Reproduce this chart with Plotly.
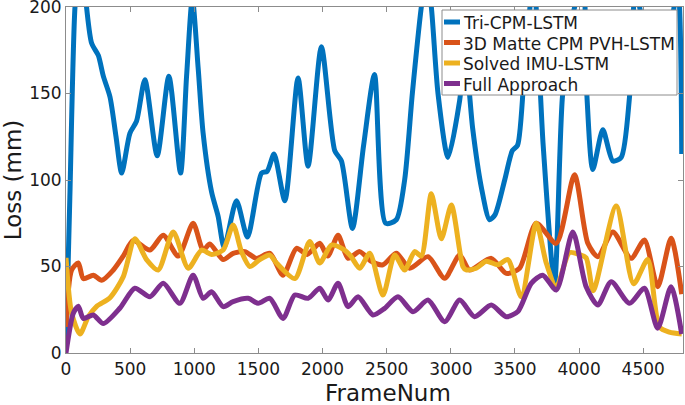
import plotly.graph_objects as go

tri_x = [0, 30, 70, 115, 160, 200, 252, 291, 343, 390, 434, 498, 550, 615, 711, 802, 893, 940, 985, 1030,
         1069, 1135, 1186, 1233, 1329, 1415, 1524, 1568, 1622, 1706, 1809, 1887, 1991, 2095, 2147, 2233,
         2320, 2405, 2492, 2575, 2640, 2700, 2770, 2810, 2848, 2900, 2978, 3069, 3110, 3170, 3240, 3302,
         3345, 3420, 3480, 3520, 3580, 3645, 3720, 3808, 3870, 3950, 4030, 4060, 4107, 4185, 4263, 4328,
         4393, 4440, 4500, 4600, 4700, 4770, 4800]
tri_y = [3, 90, 200, 235, 200, 179, 172, 160, 148, 125, 104, 127, 134, 158, 114, 160, 104, 160, 205, 165,
         127, 93, 79, 61, 88, 67, 104, 105, 115, 88, 159, 108, 177, 117, 111, 72,
         120, 161, 75, 77, 100, 150, 200, 220, 200, 150, 113, 146, 175, 130, 95, 77,
         80, 100, 117, 120, 170, 215, 120, 40, 148, 195, 215, 150, 106, 129, 111, 113,
         148, 210, 190, 170, 185, 210, 115]

mat_x = [0, 44, 96, 135, 213, 278, 369, 446, 524, 654, 758, 875, 991, 1069, 1121, 1225, 1303, 1394, 1485,
         1589, 1692, 1797, 1880, 1978, 2040, 2121, 2199, 2290, 2380, 2471, 2575, 2679, 2822, 2952, 3069,
         3146, 3315, 3432, 3536, 3666, 3822, 3964, 4068, 4146, 4263, 4405, 4509, 4613, 4717, 4800]
mat_y = [15, 48, 52, 43, 45, 42, 48, 56, 65, 59.5, 68, 56, 75, 59.5, 63, 54, 57.6, 58.6, 54.7,
         57.6, 45, 60.5, 57, 63.4, 56, 68, 54.7, 58.6, 53, 51, 57.6, 49, 55.7, 43.2, 56.6,
         48, 54.7, 46, 49, 75, 63.4, 103, 63.4, 55.7, 70, 54.7, 65.3, 38.3, 66.3, 34]

imu_x = [0, 44, 109, 174, 239, 343, 446, 537, 628, 719, 836, 953, 1057, 1135, 1225, 1303, 1368, 1433, 1511,
         1589, 1641, 1784, 1900, 1978, 2069, 2160, 2220, 2290, 2368, 2471, 2562, 2640, 2718, 2770, 2848,
         2926, 3004, 3094, 3120, 3198, 3276, 3367, 3445, 3549, 3666, 3744, 3822, 3925, 4000, 4055, 4110,
         4289, 4425, 4535, 4626, 4704, 4800]
imu_y = [55, 23, 11, 21, 27, 32, 44, 66, 54, 48, 70, 49, 59.5, 57, 59.5, 74, 58.6, 50, 54,
         56.6, 52, 43, 64.4, 52, 62.4, 60, 56, 49, 57.6, 33.5, 56.6, 48, 58.6, 56, 92,
         66, 85.5, 50, 48, 49, 53, 51, 54, 32.5, 75, 52, 38, 58, 57, 55, 36,
         85, 40, 54, 15, 12, 11]

full_x = [0, 57, 96, 135, 213, 291, 421, 537, 654, 758, 888, 991, 1069, 1135, 1225, 1303, 1420, 1498, 1589,
          1692, 1784, 1887, 1978, 2043, 2121, 2199, 2277, 2393, 2484, 2588, 2705, 2822, 2952, 3069, 3185,
          3315, 3432, 3523, 3627, 3717, 3822, 3951, 4055, 4146, 4250, 4393, 4509, 4613, 4717, 4800]
full_y = [0, 23, 27, 20, 22, 17, 26, 37.4, 32.5, 40.3, 28.7, 45, 31.6, 35.4, 26.8, 29.7, 31.6, 28.7, 31.6,
          20, 33.5, 31.6, 37.4, 30.6, 40.3, 26.8, 32.5, 22, 25.8, 32.5, 23.9, 30.6, 18.1, 30.6, 21,
          27.7, 21, 24, 40.3, 45, 36.4, 70, 38.3, 27.7, 41.2, 28.7, 37.4, 14.3, 38.3, 11]

names = ["Tri-CPM-LSTM", "3D Matte CPM PVH-LSTM", "Solved IMU-LSTM", "Full Approach"]
colors = ["#0072BD", "#D95319", "#EDB120", "#7E2F8E"]
xs = [tri_x, mat_x, imu_x, full_x]
ys = [tri_y, mat_y, imu_y, full_y]

x_ticks = [0, 500, 1000, 1500, 2000, 2500, 3000, 3500, 4000, 4500]
y_ticks = [0, 50, 100, 150, 200]

FONT = "DejaVu Sans, sans-serif"
TXT = "#1a1a1a"
EDGE = "#8c8c8c"

fig = go.Figure()
for x, y, n, c in zip(xs, ys, names, colors):
    fig.add_trace(go.Scatter(x=x, y=y, name=n, mode="lines", showlegend=False,
                             line=dict(color=c, width=5, shape="spline", smoothing=0.7)))

axis_common = dict(showgrid=False, zeroline=False, showline=True, mirror="ticks",
                   linecolor=EDGE, linewidth=1, ticks="inside", ticklen=5, automargin=False,
                   ticklabeloverflow="allow",
                   tickcolor=EDGE, tickfont=dict(family=FONT, size=17, color=TXT))

fig.update_xaxes(range=[0, 4810], tickvals=x_ticks, ticklabelstandoff=1, **axis_common)
fig.update_yaxes(range=[0, 200], tickvals=y_ticks,
                 title=dict(text="Loss (mm)", font=dict(family=FONT, size=23, color=TXT), standoff=4),
                 **axis_common)

# legend and x title drawn in paper coordinates (plot area: x 66..683 px, y 7..353 px)
W, H = 617.0, 346.0
def px(xp):
    return (xp - 66) / W
def py(yp):
    return (353 - yp) / H

shapes = [dict(type="rect", xref="paper", yref="paper", x0=px(442), x1=px(677), y0=py(95), y1=py(10),
               line=dict(color=EDGE, width=1), fillcolor="white", layer="above")]
annotations = [dict(xref="paper", yref="paper", x=px(388), y=py(392.5), text="FrameNum",
                    showarrow=False, xanchor="center", yanchor="middle",
                    font=dict(family=FONT, size=23, color=TXT))]
row_y = [22, 42.5, 63, 83.5]
for ry, n, c in zip(row_y, names, colors):
    shapes.append(dict(type="line", xref="paper", yref="paper", x0=px(444), x1=px(460),
                       y0=py(ry), y1=py(ry), line=dict(color=c, width=5), layer="above"))
    annotations.append(dict(xref="paper", yref="paper", x=px(461), y=py(ry + 1), text=n,
                            showarrow=False, xanchor="left", yanchor="middle",
                            font=dict(family=FONT, size=17, color=TXT)))

fig.update_layout(
    width=685, height=405,
    margin=dict(l=66, r=2, t=7, b=52),
    plot_bgcolor="white", paper_bgcolor="white",
    font=dict(family=FONT, size=17, color=TXT),
    showlegend=False,
    shapes=shapes, annotations=annotations,
)

fig.write_html("out.html", config={"displayModeBar": False},
               post_script="document.body.style.margin='0px';")
